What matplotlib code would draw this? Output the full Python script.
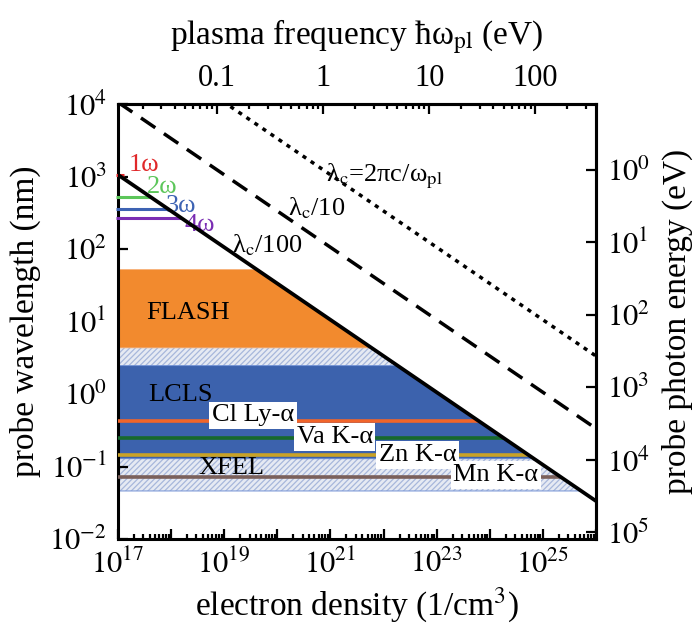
import numpy as np
import matplotlib
matplotlib.use("Agg")
import matplotlib.pyplot as plt
from matplotlib.ticker import FixedLocator, FuncFormatter, LogLocator, NullLocator, NullFormatter

plt.rcParams["font.family"] = ["Liberation Serif", "DejaVu Serif"]
plt.rcParams["mathtext.fontset"] = "stix"
plt.rcParams["hatch.linewidth"] = 0.9

# physical constants
NC_UM = 1.115e21      # critical density (cm^-3) for lambda = 1 um
HBAR_WP = 3.712e-11   # hbar*omega_pl (eV) per sqrt(n / cm^-3)
HC = 1239.84          # eV nm

# light source bands (nm)
flash_band = [4.4, 53.0]
lcls_band = [0.13, 2.5]
xfel_band = [0.046, 4.4]

# laser harmonics (nm)
harmonic_names = ["1ω", "2ω", "3ω", "4ω"]
harmonic_nm = [1054.0, 527.0, 351.3, 263.5]
harmonic_colors = ["#e0282a", "#5cc65a", "#3d63b3", "#7a2db3"]

# x-ray emission lines (nm)
xline_names = ["Cl Ly-α", "Va K-α", "Zn K-α", "Mn K-α"]
xline_nm = [0.419, 0.250, 0.1435, 0.0709]
xline_colors = ["#f2652a", "#17692d", "#c9a227", "#7a605b"]

N_MIN, N_MAX = 1e17, 1e26


def lam_c(n, k=1):
    """cutoff wavelength lambda_c / k in nm"""
    return 1000.0 * np.sqrt(NC_UM / n) / k


def n_at(lam, k=100):
    """density where lambda_c / k equals lam (nm)"""
    return NC_UM * (1000.0 / (k * np.asarray(lam))) ** 2


def pow_label(v, p):
    e = int(round(np.log10(v)))
    return r"$10^{%d}$" % e


fig = plt.figure(figsize=(7, 6.28), dpi=100)
ax = fig.add_axes([118 / 700, 1 - 539 / 628, 478 / 700, 435 / 628])
ax.set_xscale("log")
ax.set_yscale("log")
ax.set_xlim(N_MIN, N_MAX)
ax.set_ylim(1e-2, 1e4)


def band(lo, hi, **kw):
    y = np.geomspace(lo, hi, 60)
    return ax.fill_betweenx(y, N_MIN, np.minimum(n_at(y), N_MAX), **kw)


# XFEL (hatched), LCLS, FLASH
band(*xfel_band, facecolor="#e6eaf3", edgecolor="#a7b7db", hatch="//////",
     linewidth=0, zorder=1)
band(*xfel_band, facecolor="none", edgecolor="#7f9bd8", linewidth=0.8, zorder=1)
band(*lcls_band, facecolor="#3c62ad", edgecolor="#6d8fd6", linewidth=0.6, zorder=2)
band(*flash_band, facecolor="#f28a2e", edgecolor="#f7b27a", linewidth=0.6, zorder=2)

# emission lines up to the lambda_c/100 boundary
for lam, c in zip(xline_nm, xline_colors):
    ax.plot([N_MIN, n_at(lam)], [lam, lam], color=c, lw=2.6,
            solid_capstyle="butt", zorder=3, clip_on=False)

# laser harmonics
for lam, c in zip(harmonic_nm, harmonic_colors):
    ax.plot([N_MIN * 0.93, max(n_at(lam), 1.3e17)], [lam, lam], color=c, lw=2.2,
            solid_capstyle="butt", zorder=3, clip_on=False)

# cutoff lines
n = np.geomspace(N_MIN, N_MAX, 200)
ax.plot(n, lam_c(n, 100), color="black", lw=2.7, zorder=5)
ax.plot(n, lam_c(n, 10), color="black", lw=2.5, dashes=(5, 3), zorder=5)
ax.plot(n, lam_c(n, 1), color="black", lw=2.5, dashes=(1.2, 1.6), zorder=5)

# labels
tfs = 19
ax.text(3.4e17, 13.0, "FLASH", fontsize=tfs, va="center", ha="left", zorder=4)
ax.text(3.7e17, 0.97, "LCLS", fontsize=tfs, va="center", ha="left", zorder=4)
ax.text(3.2e18, 0.095, "XFEL", fontsize=tfs, va="center", ha="left", zorder=4)

box = dict(boxstyle="square,pad=0.1", fc="white", ec="none")
xline_pos = [(3.5e19, 0.51), (1.2e21, 0.255), (4.4e22, 0.144), (1.3e24, 0.0764)]
for name, (px, py) in zip(xline_names, xline_pos):
    ax.text(px, py, name, fontsize=tfs, ha="center", va="center", bbox=box, zorder=4)

harm_pos = [(3.1e17, 1440), (6.7e17, 716), (1.55e18, 392), (3.5e18, 214)]
for name, c, (px, py) in zip(harmonic_names, harmonic_colors, harm_pos):
    ax.text(px, py, name, fontsize=tfs, color=c, ha="center", va="center", zorder=4)

ax.text(6.5e19, 113, r"λ$_\mathrm{c}$/100", fontsize=tfs, ha="center", va="center", zorder=6)
ax.text(5.4e20, 368, r"λ$_\mathrm{c}$/10", fontsize=tfs, ha="center", va="center", zorder=6)
ax.text(1.05e22, 1016, r"λ$_\mathrm{c}$=2πc/ω$_\mathrm{pl}$", fontsize=tfs,
        ha="center", va="center", zorder=6)

# axes styling
lfs, tkfs = 24, 22
for s in ax.spines.values():
    s.set_linewidth(2.2)

ax.xaxis.set_major_locator(FixedLocator(10.0 ** np.arange(17, 27)))
ax.xaxis.set_minor_locator(LogLocator(base=10, subs=np.arange(2, 10), numticks=20))
ax.xaxis.set_major_formatter(FuncFormatter(
    lambda v, p: pow_label(v, p) if int(round(np.log10(v))) % 2 == 1 else ""))
ax.xaxis.set_minor_formatter(NullFormatter())
ax.yaxis.set_major_locator(FixedLocator(10.0 ** np.arange(-2, 5)))
ax.yaxis.set_minor_locator(NullLocator())
ax.yaxis.set_major_formatter(FuncFormatter(pow_label))
ax.tick_params(which="both", direction="in", top=False, right=False, labelsize=tkfs, width=1.6)
ax.tick_params(which="major", length=7, pad=8)
ax.tick_params(which="minor", length=3.5)

ax.set_xlabel("electron density (1/cm$^3$)", fontsize=lfs, labelpad=4)
ax.set_ylabel("probe wavelength (nm)", fontsize=lfs, labelpad=6)

# top: plasma frequency
secx = ax.secondary_xaxis("top", functions=(lambda x: HBAR_WP * np.sqrt(np.abs(x)),
                                            lambda e: (np.abs(e) / HBAR_WP) ** 2))
secx.xaxis.set_major_locator(FixedLocator([0.1, 1, 10, 100]))
secx.xaxis.set_minor_locator(LogLocator(base=10, subs=np.arange(2, 10), numticks=20))
secx.xaxis.set_major_formatter(FuncFormatter(lambda v, p: "%g" % v))
secx.xaxis.set_minor_formatter(NullFormatter())
secx.tick_params(which="both", direction="in", labelsize=tkfs, width=1.6)
secx.tick_params(which="major", length=7, pad=8)
secx.tick_params(which="minor", length=3.5)
secx.set_xlabel(r"plasma frequency ħω$_\mathrm{pl}$ (eV)", fontsize=lfs, labelpad=14)
secx.spines["top"].set_linewidth(2.2)

# right: photon energy
secy = ax.secondary_yaxis("right", functions=(lambda l: HC / np.maximum(l, 1e-30),
                                              lambda e: HC / np.maximum(e, 1e-30)))
secy.yaxis.set_major_locator(FixedLocator([1, 10, 100, 1e3, 1e4, 1e5]))
secy.yaxis.set_minor_locator(NullLocator())
secy.yaxis.set_major_formatter(FuncFormatter(pow_label))
secy.tick_params(which="both", direction="in", labelsize=tkfs, width=1.6, length=7, pad=8)
secy.set_ylabel("probe photon energy (eV)", fontsize=lfs, labelpad=8)
secy.spines["right"].set_linewidth(2.2)

fig.savefig("out.png", dpi=100)
